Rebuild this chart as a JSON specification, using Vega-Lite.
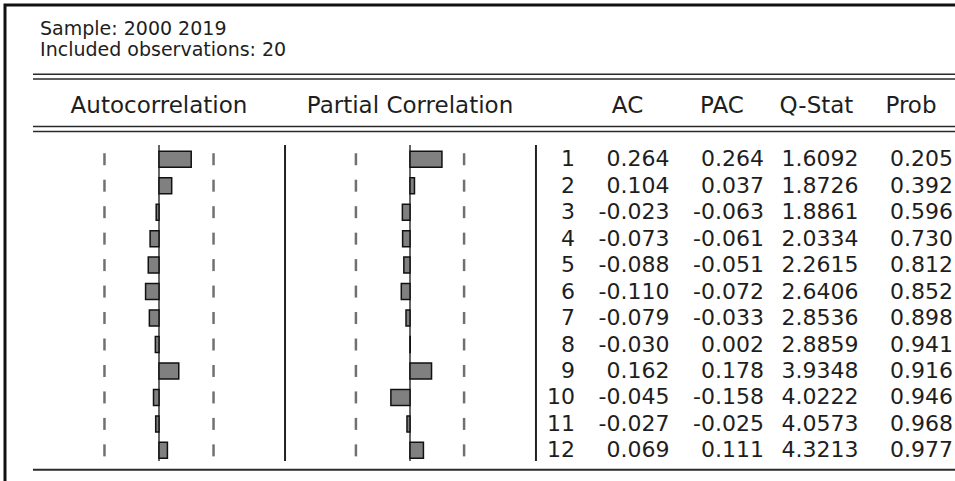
{
  "$schema": "https://vega.github.io/schema/vega-lite/v6.json",
  "width": 952,
  "height": 478,
  "autosize": {"type": "none"},
  "padding": {"left": 5, "top": 5, "right": 0, "bottom": 0},
  "background": "white",
  "config": {
    "view": {"stroke": "#111111", "strokeWidth": 3},
    "axis": {"disable": true},
    "text": {"font": "DejaVu Sans", "fontSize": 22, "color": "#1e1e1e"},
    "locale": {"number": {"decimal": ".", "thousands": ",", "grouping": [3], "currency": ["$", ""], "minus": "-"}}
  },
  "datasets": {
    "corr": [
      {"lag": 1, "ac": 0.264, "pac": 0.264, "q": 1.6092, "prob": 0.205},
      {"lag": 2, "ac": 0.104, "pac": 0.037, "q": 1.8726, "prob": 0.392},
      {"lag": 3, "ac": -0.023, "pac": -0.063, "q": 1.8861, "prob": 0.596},
      {"lag": 4, "ac": -0.073, "pac": -0.061, "q": 2.0334, "prob": 0.730},
      {"lag": 5, "ac": -0.088, "pac": -0.051, "q": 2.2615, "prob": 0.812},
      {"lag": 6, "ac": -0.110, "pac": -0.072, "q": 2.6406, "prob": 0.852},
      {"lag": 7, "ac": -0.079, "pac": -0.033, "q": 2.8536, "prob": 0.898},
      {"lag": 8, "ac": -0.030, "pac": 0.002, "q": 2.8859, "prob": 0.941},
      {"lag": 9, "ac": 0.162, "pac": 0.178, "q": 3.9348, "prob": 0.916},
      {"lag": 10, "ac": -0.045, "pac": -0.158, "q": 4.0222, "prob": 0.946},
      {"lag": 11, "ac": -0.027, "pac": -0.025, "q": 4.0573, "prob": 0.968},
      {"lag": 12, "ac": 0.069, "pac": 0.111, "q": 4.3213, "prob": 0.977}
    ]
  },
  "data": {"name": "corr"},
  "layer": [
    {
      "layer": [
        {
          "data": {"values": [{}]},
          "mark": {"type": "rule", "color": "#333333", "strokeWidth": 1.5},
          "encoding": {
            "x": {"datum": 0, "type": "quantitative", "scale": {"domain": [-1, 1], "range": [32, 276], "nice": false, "zero": false}, "axis": null},
            "y": {"datum": 0.463, "type": "quantitative", "scale": {"domain": [0.5, 12.5], "range": [136, 463.6], "nice": false, "zero": false}, "axis": null},
            "y2": {"datum": 12.405}
          }
        },
        {
          "data": {"values": [{}]},
          "mark": {"type": "rule", "color": "#222222", "strokeWidth": 2},
          "encoding": {
            "x": {"datum": 1.033, "type": "quantitative"},
            "y": {"datum": 0.463, "type": "quantitative"},
            "y2": {"datum": 12.405}
          }
        },
        {
          "mark": {"type": "tick", "orient": "vertical", "size": 12, "thickness": 2.5, "color": "#333333"},
          "encoding": {
            "x": {"datum": -0.447, "type": "quantitative"},
            "y": {"field": "lag", "type": "quantitative"}
          }
        },
        {
          "mark": {"type": "tick", "orient": "vertical", "size": 12, "thickness": 2.5, "color": "#333333"},
          "encoding": {
            "x": {"datum": 0.447, "type": "quantitative"},
            "y": {"field": "lag", "type": "quantitative"}
          }
        },
        {
          "mark": {"type": "bar", "orient": "horizontal", "size": 16, "fill": "#808080", "stroke": "#111111", "strokeWidth": 1.5},
          "encoding": {
            "x": {"field": "ac", "type": "quantitative"},
            "x2": {"datum": 0},
            "y": {"field": "lag", "type": "quantitative"}
          }
        },
        {
          "data": {"values": [{"h": "Autocorrelation"}]},
          "mark": {"type": "text", "align": "center", "baseline": "alphabetic", "fontSize": 23},
          "encoding": {
            "x": {"datum": 0, "type": "quantitative"},
            "y": {"datum": -0.745, "type": "quantitative"},
            "text": {"field": "h"}
          }
        },
        {
          "data": {"values": [{"t": "Sample: 2000 2019"}]},
          "mark": {"type": "text", "align": "left", "baseline": "alphabetic", "fontSize": 19},
          "encoding": {
            "x": {"datum": -0.975, "type": "quantitative"},
            "y": {"datum": -3.712, "type": "quantitative"},
            "text": {"field": "t"}
          }
        },
        {
          "data": {"values": [{"t": "Included observations: 20"}]},
          "mark": {"type": "text", "align": "left", "baseline": "alphabetic", "fontSize": 19},
          "encoding": {
            "x": {"datum": -0.975, "type": "quantitative"},
            "y": {"datum": -2.907, "type": "quantitative"},
            "text": {"field": "t"}
          }
        },
        {
          "data": {"values": [{}]},
          "mark": {"type": "rule", "color": "#2a2a2a", "strokeWidth": 1.5},
          "encoding": {"x": {"datum": -1.033, "type": "quantitative"}, "x2": {"datum": 7}, "y": {"datum": -2.211, "type": "quantitative"}}
        },
        {
          "data": {"values": [{}]},
          "mark": {"type": "rule", "color": "#2a2a2a", "strokeWidth": 1.5},
          "encoding": {"x": {"datum": -1.033, "type": "quantitative"}, "x2": {"datum": 7}, "y": {"datum": -2.028, "type": "quantitative"}}
        },
        {
          "data": {"values": [{}]},
          "mark": {"type": "rule", "color": "#2a2a2a", "strokeWidth": 1.5},
          "encoding": {"x": {"datum": -1.033, "type": "quantitative"}, "x2": {"datum": 7}, "y": {"datum": -0.233, "type": "quantitative"}}
        },
        {
          "data": {"values": [{}]},
          "mark": {"type": "rule", "color": "#2a2a2a", "strokeWidth": 1.5},
          "encoding": {"x": {"datum": -1.033, "type": "quantitative"}, "x2": {"datum": 7}, "y": {"datum": -0.049, "type": "quantitative"}}
        },
        {
          "data": {"values": [{}]},
          "mark": {"type": "rule", "color": "#2a2a2a", "strokeWidth": 2},
          "encoding": {"x": {"datum": -1.033, "type": "quantitative"}, "x2": {"datum": 7}, "y": {"datum": 12.734, "type": "quantitative"}}
        }
      ]
    },
    {
      "layer": [
        {
          "data": {"values": [{}]},
          "mark": {"type": "rule", "color": "#333333", "strokeWidth": 1.5},
          "encoding": {
            "x": {"datum": 0, "type": "quantitative", "scale": {"domain": [-1, 1], "range": [284, 526], "nice": false, "zero": false}, "axis": null},
            "y": {"datum": 0.463, "type": "quantitative"},
            "y2": {"datum": 12.405}
          }
        },
        {
          "data": {"values": [{}]},
          "mark": {"type": "rule", "color": "#222222", "strokeWidth": 2},
          "encoding": {
            "x": {"datum": 1.041, "type": "quantitative"},
            "y": {"datum": 0.463, "type": "quantitative"},
            "y2": {"datum": 12.405}
          }
        },
        {
          "mark": {"type": "tick", "orient": "vertical", "size": 12, "thickness": 2.5, "color": "#333333"},
          "encoding": {
            "x": {"datum": -0.447, "type": "quantitative"},
            "y": {"field": "lag", "type": "quantitative"}
          }
        },
        {
          "mark": {"type": "tick", "orient": "vertical", "size": 12, "thickness": 2.5, "color": "#333333"},
          "encoding": {
            "x": {"datum": 0.447, "type": "quantitative"},
            "y": {"field": "lag", "type": "quantitative"}
          }
        },
        {
          "mark": {"type": "bar", "orient": "horizontal", "size": 16, "fill": "#808080", "stroke": "#111111", "strokeWidth": 1.5},
          "encoding": {
            "x": {"field": "pac", "type": "quantitative"},
            "x2": {"datum": 0},
            "y": {"field": "lag", "type": "quantitative"}
          }
        },
        {
          "data": {"values": [{"h": "Partial Correlation"}]},
          "mark": {"type": "text", "align": "center", "baseline": "alphabetic", "fontSize": 23},
          "encoding": {
            "x": {"datum": 0, "type": "quantitative"},
            "y": {"datum": -0.745, "type": "quantitative"},
            "text": {"field": "h"}
          }
        }
      ]
    },
    {
      "layer": [
        {
          "mark": {"type": "text", "align": "right", "baseline": "middle"},
          "encoding": {
            "x": {"datum": "lag", "type": "nominal", "scale": {"type": "point", "domain": ["lag", "AC", "PAC", "Q-Stat", "Prob"], "range": [570, 948], "padding": 0}, "axis": null},
            "y": {"field": "lag", "type": "quantitative"},
            "text": {"field": "lag", "type": "quantitative", "format": "d"}
          }
        },
        {
          "mark": {"type": "text", "align": "right", "baseline": "middle"},
          "encoding": {
            "x": {"datum": "AC", "type": "nominal"},
            "y": {"field": "lag", "type": "quantitative"},
            "text": {"field": "ac", "type": "quantitative", "format": ".3f"}
          }
        },
        {
          "mark": {"type": "text", "align": "right", "baseline": "middle"},
          "encoding": {
            "x": {"datum": "PAC", "type": "nominal"},
            "y": {"field": "lag", "type": "quantitative"},
            "text": {"field": "pac", "type": "quantitative", "format": ".3f"}
          }
        },
        {
          "mark": {"type": "text", "align": "right", "baseline": "middle"},
          "encoding": {
            "x": {"datum": "Q-Stat", "type": "nominal"},
            "y": {"field": "lag", "type": "quantitative"},
            "text": {"field": "q", "type": "quantitative", "format": ".4f"}
          }
        },
        {
          "mark": {"type": "text", "align": "right", "baseline": "middle"},
          "encoding": {
            "x": {"datum": "Prob", "type": "nominal"},
            "y": {"field": "lag", "type": "quantitative"},
            "text": {"field": "prob", "type": "quantitative", "format": ".3f"}
          }
        },
        {
          "data": {"values": [{"col": "AC"}, {"col": "PAC"}, {"col": "Q-Stat"}, {"col": "Prob"}]},
          "mark": {"type": "text", "align": "center", "baseline": "alphabetic", "dx": -42, "fontSize": 23},
          "encoding": {
            "x": {"field": "col", "type": "nominal"},
            "y": {"datum": -0.745, "type": "quantitative"},
            "text": {"field": "col"}
          }
        }
      ]
    }
  ],
  "resolve": {"scale": {"x": "independent"}}
}
